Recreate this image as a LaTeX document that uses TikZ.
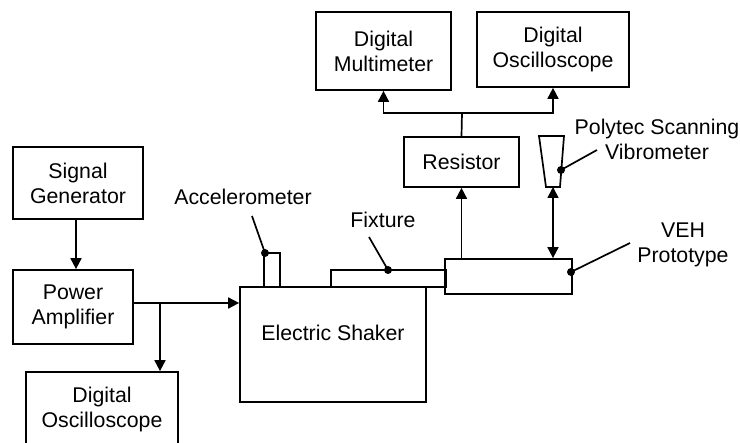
\documentclass[tikz,border=0pt]{standalone}
\usepackage{fontspec}
\setmainfont{Liberation Sans}
\usetikzlibrary{arrows.meta}
\begin{document}
\begin{tikzpicture}[x=1pt,y=-1pt,line width=1.7pt,
  txt/.style={font=\fontsize{21.3}{25}\selectfont},
  box/.style={draw,rectangle,inner sep=0pt,align=center,txt},
  lbl/.style={inner sep=0pt,align=center,txt},
  arr/.style={-{Triangle[length=11pt,width=11pt]}},
  darr/.style={{Triangle[length=11pt,width=11pt]}-{Triangle[length=11pt,width=11pt]}},
  dot/.style={circle,fill,inner sep=0pt,minimum size=8pt}]
\useasboundingbox (0,0) rectangle (740,443);

% boxes
\node[box,minimum width=130pt,minimum height=72pt] (sg) at (78,183) {Signal\\Generator};
\node[box,minimum width=120pt,minimum height=74pt] (pa) at (73,307) {Power\\Amplifier};
\node[box,minimum width=152pt,minimum height=74pt] (do2) at (102,409) {Digital\\Oscilloscope};
\node[box,minimum width=186pt,minimum height=115pt] (sh) at (333,344.5) {};
\node[lbl] (shtxt) at (333,333) {Electric Shaker};
\node[draw,rectangle,inner sep=0pt,minimum width=16pt,minimum height=34pt] (acc) at (272,270) {};
\node[draw,rectangle,inner sep=0pt,minimum width=115pt,minimum height=17pt] (fix) at (388.5,278.5) {};
\node[draw,rectangle,inner sep=0pt,minimum width=127pt,minimum height=35pt] (veh) at (508.5,276.5) {};
\node[box,minimum width=115pt,minimum height=50pt] (res) at (461.5,162) {Resistor};
\node[box,minimum width=135pt,minimum height=78pt] (dm) at (383.5,51) {Digital\\Multimeter};
\node[box,minimum width=152pt,minimum height=75pt] (do1) at (553,49.5) {Digital\\Oscilloscope};

% vibrometer head
\draw (539,136) -- (564,136) -- (560,187) -- (546,187) -- cycle;
\coordinate (vib) at (553,187);

% connectors
\draw[arr] ([xshift=-2pt]sg.south) -- ([xshift=-2pt]sg.south |- pa.north);
\draw[arr] ([yshift=4pt]pa.east) -- ([yshift=4pt]pa.east -| sh.west);
\coordinate (br) at (160,303);
\draw[arr] (br) -- (br |- do2.north);
\draw[arr] (res.south |- veh.north) -- (res.south);
\coordinate (j) at (462,113);
\draw (res.north) -- (j);
\draw[arr] (j) -| (dm.south);
\draw[arr] (j) -| (do1.south);
\draw[darr] (vib) -- (vib |- veh.north);

% labels with leaders
\node[lbl] (accl) at (243,197) {Accelerometer};
\node[dot] (da) at (265,253) {};
\coordinate (la) at (252,216);
\draw (la) -- (da.center);

\node[lbl] (fixl) at (383,220) {Fixture};
\node[dot] (df) at (388,270) {};
\coordinate (lf) at (369,237);
\draw (lf) -- (df.center);

\node[lbl] (vehl) at (683,244.5) {VEH\\Prototype};
\node[dot] (dv) at (571,272) {};
\coordinate (lv) at (630,243);
\draw (lv) -- (dv.center);

\node[lbl] (vibl) at (657,139) {Polytec Scanning\\Vibrometer};
\node[dot] (dvb) at (561,170) {};
\coordinate (lvb) at (597,150);
\draw (lvb) -- (dvb.center);
\end{tikzpicture}
\end{document}
